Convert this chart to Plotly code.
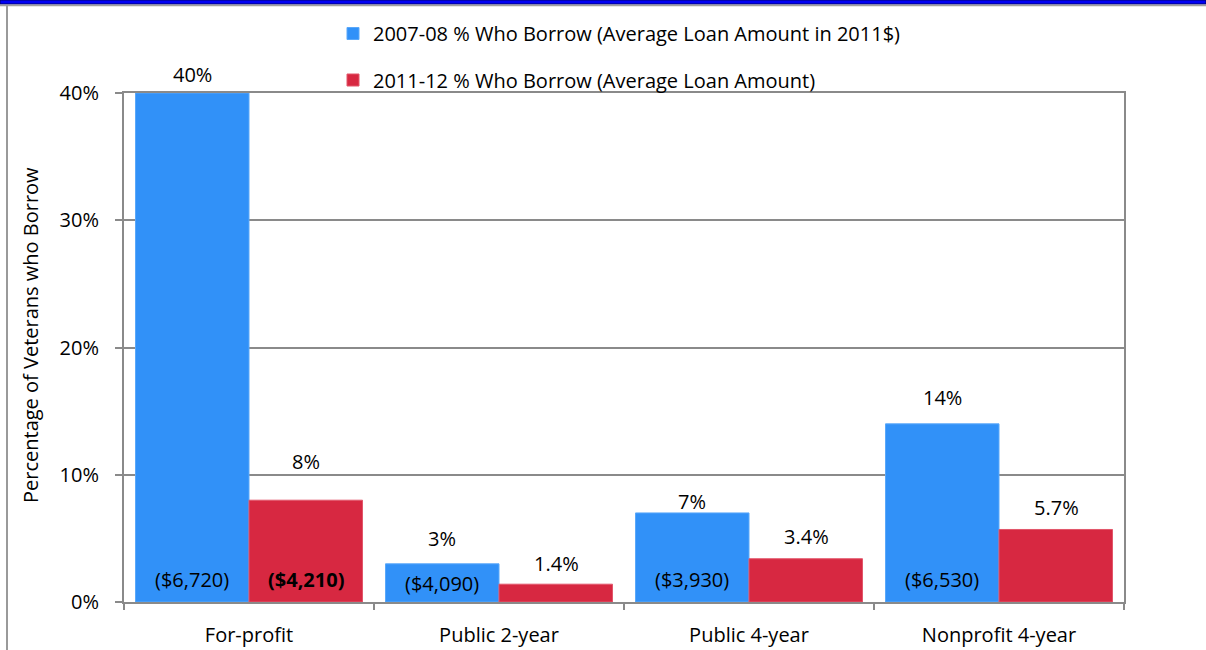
import plotly.graph_objects as go

# ---- data ----
categories = ["For-profit", "Public 2-year", "Public 4-year", "Nonprofit 4-year"]
pct_2007 = [40, 3, 7, 14]          # % who borrow, 2007-08
pct_2011 = [8, 1.4, 3.4, 5.7]      # % who borrow, 2011-12
pct_2007_labels = ["40%", "3%", "7%", "14%"]
pct_2011_labels = ["8%", "1.4%", "3.4%", "5.7%"]
loan_2007_labels = ["($6,720)", "($4,090)", "($3,930)", "($6,530)"]
loan_2011_labels = ["<b>($4,210)</b>", "", "", ""]
y_ticks = [0, 10, 20, 30, 40]
y_tick_labels = ["0%", "10%", "20%", "30%", "40%"]
series_names = [
    "2007-08 % Who Borrow (Average Loan Amount in 2011$)",
    "2011-12 % Who Borrow (Average Loan Amount)",
]

# ---- layout geometry (pixels) ----
W, H = 1206, 650
ML, MR, MT, MB = 124, 82, 93, 48
PW, PH = W - ML - MR, H - MT - MB

BLUE = "#3191F8"
RED = "#D72841"
GRID = "#8A8A8A"
FONT = "Open Sans"
FS = 20


def px_x(px):
    return (px - ML) / PW


def px_y(py):
    return (H - MB - py) / PH


fig = go.Figure()
fig.add_trace(go.Bar(
    x=categories, y=pct_2007, name=series_names[0],
    marker=dict(color=BLUE, line=dict(color="#5AA8FA", width=1)),
    legend="legend", hoverinfo="skip",
))
fig.add_trace(go.Bar(
    x=categories, y=pct_2011, name=series_names[1],
    marker=dict(color=RED, line=dict(color="#E2566A", width=1)),
    legend="legend2", hoverinfo="skip",
))

annotations = []
bar_offset = 57  # horizontal pixel offset of each bar centre from the category centre
# distance (px) from bar top to the centre of its percentage label
gap_2007 = [19, 25, 11, 26]
gap_2011 = [39, 21, 22, 21.5]
label_font = dict(family=FONT, size=FS, color="black")
for i, cat in enumerate(categories):
    annotations.append(dict(x=cat, y=pct_2007[i], xref="x", yref="y",
                            text=pct_2007_labels[i], showarrow=False,
                            xshift=-bar_offset, yshift=gap_2007[i], yanchor="middle",
                            font=label_font))
    annotations.append(dict(x=cat, y=pct_2011[i], xref="x", yref="y",
                            text=pct_2011_labels[i], showarrow=False,
                            xshift=bar_offset, yshift=gap_2011[i], yanchor="middle",
                            font=label_font))
    # average loan amounts sit near the base of the bars
    annotations.append(dict(x=cat, y=0, xref="x", yref="y",
                            text=loan_2007_labels[i], showarrow=False,
                            xshift=-bar_offset, yshift=23 if i != 1 else 19,
                            yanchor="middle", font=label_font))
    if loan_2011_labels[i]:
        annotations.append(dict(x=cat, y=0, xref="x", yref="y",
                                text=loan_2011_labels[i], showarrow=False,
                                xshift=bar_offset, yshift=23, yanchor="middle",
                                font=label_font))

# y-axis title
annotations.append(dict(x=px_x(30), y=px_y(335), xref="paper", yref="paper",
                        text="Percentage of Veterans who Borrow", showarrow=False,
                        textangle=-90, xanchor="center", yanchor="middle",
                        font=label_font))

shapes = [
    # blue band along the top edge
    dict(type="rect", xref="paper", yref="paper",
         x0=px_x(0), x1=px_x(W), y0=px_y(0), y1=px_y(4),
         fillcolor="#0000F5", line=dict(color="#00006A", width=1), layer="above"),
    # grey frame lines
    dict(type="line", xref="paper", yref="paper",
         x0=px_x(0), x1=px_x(W), y0=px_y(5.5), y1=px_y(5.5),
         line=dict(color="#A0A0A0", width=1.5)),
    dict(type="line", xref="paper", yref="paper",
         x0=px_x(7), x1=px_x(7), y0=px_y(5), y1=px_y(H),
         line=dict(color="#9A9A9A", width=2)),
]

fig.update_layout(
    width=W, height=H,
    margin=dict(l=ML, r=MR, t=MT, b=MB, pad=0, autoexpand=False),
    paper_bgcolor="white", plot_bgcolor="white",
    barmode="group", bargap=0.092, bargroupgap=0,
    font=dict(family=FONT, size=FS, color="black"),
    showlegend=True,
    legend=dict(x=px_x(333), y=px_y(33.5), xanchor="left", yanchor="middle",
                bgcolor="rgba(0,0,0,0)", font=label_font),
    legend2=dict(x=px_x(333), y=px_y(80), xanchor="left", yanchor="middle",
                 bgcolor="rgba(0,0,0,0)", font=label_font),
    xaxis=dict(
        type="category", showgrid=False, showline=True, mirror=True,
        linecolor=GRID, linewidth=2, ticks="outside", tickson="boundaries",
        ticklen=6, tickwidth=2, tickcolor=GRID, ticklabelstandoff=14,
        tickfont=label_font, fixedrange=True, automargin=False,
    ),
    yaxis=dict(
        range=[0, 40], tickvals=y_ticks, ticktext=y_tick_labels,
        showgrid=True, gridcolor=GRID, gridwidth=1.5,
        showline=True, mirror=True, linecolor=GRID, linewidth=2,
        ticks="outside", ticklen=7, tickwidth=2, tickcolor=GRID,
        ticklabelstandoff=12, zeroline=False,
        tickfont=label_font, fixedrange=True, automargin=False,
    ),
    annotations=annotations,
    shapes=shapes,
)

fig.write_html("out.html", config={"displayModeBar": False})
